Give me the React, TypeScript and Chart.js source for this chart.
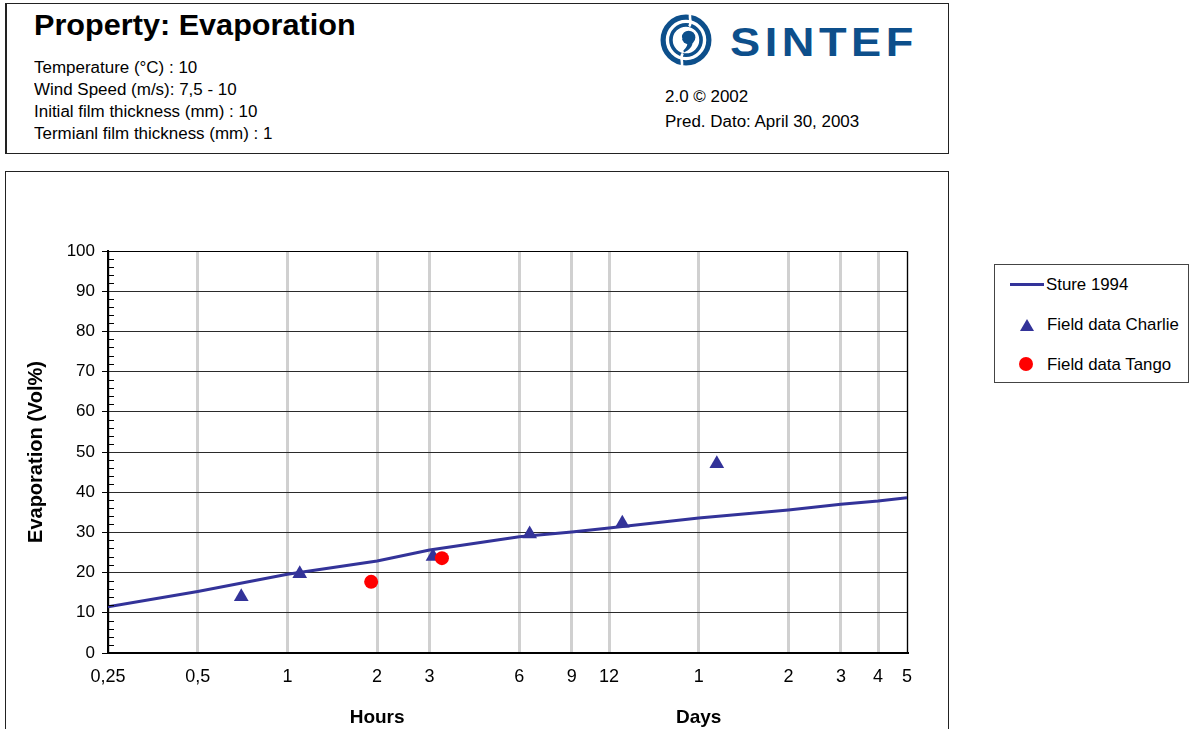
import React, { useEffect, useRef } from "react";
import { Chart, registerables } from "chart.js";

Chart.register(...registerables);

// ---------- data ----------
const seriesNames = ["Sture 1994", "Field data Charlie", "Field data Tango"];
const stureHours = [0.25, 0.5, 1, 2, 3, 6, 9, 12, 24, 48, 72, 96, 120];
const stureEvap = [11.5, 15.3, 19.6, 22.9, 25.6, 28.9, 30.1, 31.1, 33.6, 35.6, 37.0, 37.8, 38.6];
const charlieHours = [0.7, 1.1, 3.08, 6.5, 13.3, 27.6];
const charlieEvap = [14.0, 19.7, 24.0, 29.6, 32.3, 47.1];
const tangoHours = [1.91, 3.3];
const tangoEvap = [17.7, 23.6];
const xTickValues = [0.25, 0.5, 1, 2, 3, 6, 9, 12, 24, 48, 72, 96, 120];
const xTickLabels = ["0,25", "0,5", "1", "2", "3", "6", "9", "12", "1", "2", "3", "4", "5"];
const xGroupTitles = ["Hours", "Days"];
const xGroupCenters = [2, 24];
const yAxisTitle = "Evaporation (Vol%)";
const yMin = 0;
const yMax = 100;
const yStep = 10;
const yMinorStep = 2;

const headerTitle = "Property: Evaporation";
const headerLines = [
  "Temperature (°C) : 10",
  "Wind Speed (m/s): 7,5 - 10",
  "Initial film thickness (mm) : 10",
  "Termianl film thickness (mm) : 1",
];
const headerRight = ["2.0 © 2002", "Pred. Dato: April 30, 2003"];

const FONT = "'Liberation Sans', Arial, Helvetica, sans-serif";
const NAVY = "#333399";
const LOGO_BLUE = "#0d4f8b";

const toPoints = (xs: number[], ys: number[]) => xs.map((x, i) => ({ x, y: ys[i] }));

const decorPlugin = {
  id: "decor",
  afterDraw(chart: any) {
    const { ctx, chartArea: a, scales } = chart;
    const xs = scales.x;
    const ys = scales.y;
    ctx.save();
    // top and right frame
    ctx.strokeStyle = "#000";
    ctx.lineWidth = 1;
    ctx.beginPath();
    ctx.moveTo(a.left, Math.round(a.top) + 0.5);
    ctx.lineTo(Math.round(a.right) + 0.5, Math.round(a.top) + 0.5);
    ctx.lineTo(Math.round(a.right) + 0.5, a.bottom);
    ctx.stroke();
    // minor ticks on y axis (inside)
    ctx.beginPath();
    for (let v = yMin; v <= yMax; v += yMinorStep) {
      if (v % yStep === 0) continue;
      const py = Math.round(ys.getPixelForValue(v)) + 0.5;
      ctx.moveTo(a.left, py);
      ctx.lineTo(a.left + 6, py);
    }
    ctx.stroke();
    // x group titles
    ctx.fillStyle = "#000";
    ctx.font = `bold 19px ${FONT}`;
    ctx.textAlign = "center";
    ctx.textBaseline = "alphabetic";
    xGroupTitles.forEach((t, i) => {
      ctx.fillText(t, xs.getPixelForValue(xGroupCenters[i]), a.bottom + 70);
    });
    // y title
    ctx.font = `bold 20px ${FONT}`;
    ctx.translate(35.5, (a.top + a.bottom) / 2);
    ctx.rotate(-Math.PI / 2);
    ctx.fillText(yAxisTitle, 0, 0);
    ctx.restore();
  },
};

function ChartBox() {
  const ref = useRef<HTMLCanvasElement | null>(null);
  useEffect(() => {
    if (!ref.current) return;
    const chart = new Chart(ref.current, {
      type: "scatter",
      data: {
        datasets: [
          {
            label: seriesNames[0],
            data: toPoints(stureHours, stureEvap),
            showLine: true,
            borderColor: NAVY,
            borderWidth: 3,
            pointRadius: 0,
            tension: 0,
            order: 3,
          },
          {
            label: seriesNames[1],
            data: toPoints(charlieHours, charlieEvap),
            showLine: false,
            pointStyle: "triangle",
            pointRadius: 8.5,
            backgroundColor: NAVY,
            borderColor: NAVY,
            borderWidth: 0,
            order: 2,
          },
          {
            label: seriesNames[2],
            data: toPoints(tangoHours, tangoEvap),
            showLine: false,
            pointStyle: "circle",
            pointRadius: 7,
            backgroundColor: "#ff0000",
            borderColor: "#ff0000",
            borderWidth: 0,
            order: 1,
          },
        ],
      },
      options: {
        animation: false,
        responsive: true,
        maintainAspectRatio: false,
        layout: { padding: { left: 0, top: 79, right: 41, bottom: 0 } },
        plugins: { legend: { display: false }, tooltip: { enabled: false } },
        scales: {
          x: {
            type: "logarithmic",
            min: 0.25,
            max: 120,
            z: -2,
            afterBuildTicks: (scale: any) => {
              scale.ticks = xTickValues.map((v) => ({ value: v }));
            },
            afterFit: (scale: any) => {
              scale.height = 76;
            },
            ticks: {
              autoSkip: false,
              maxRotation: 0,
              padding: 13,
              color: "#000",
              font: { family: FONT, size: 18 },
              callback: (value: any) => {
                const i = xTickValues.indexOf(Number(value));
                return i >= 0 ? xTickLabels[i] : "";
              },
            },
            grid: { color: "#d0d0d0", lineWidth: 3, drawTicks: false },
            border: { display: true, color: "#000", width: 2 },
          },
          y: {
            type: "linear",
            min: yMin,
            max: yMax,
            z: -1,
            afterFit: (scale: any) => {
              scale.width = 102;
            },
            ticks: {
              stepSize: yStep,
              padding: 7,
              color: "#000",
              font: { family: FONT, size: 17 },
            },
            grid: { color: "#2a2a2a", lineWidth: 1, tickLength: 6, tickColor: "#000" },
            border: { display: true, color: "#000", width: 2 },
          },
        },
      },
      plugins: [decorPlugin],
    });
    return () => chart.destroy();
  }, []);
  return (
    <div style={{ position: "absolute", left: 6, top: 172, width: 942, height: 557 }}>
      <canvas ref={ref} />
    </div>
  );
}

const txt = (left: number, baseline: number, size: number, sx: number, extra: any = {}) => ({
  position: "absolute" as const,
  left,
  top: baseline - 0.8465 * size,
  fontSize: size,
  lineHeight: 1,
  fontFamily: FONT,
  whiteSpace: "nowrap" as const,
  color: "#000",
  transformOrigin: "left top",
  transform: `scaleX(${sx})`,
  ...extra,
});

function Logo() {
  return (
    <svg
      width={52}
      height={52}
      viewBox="0 0 100 100"
      style={{ position: "absolute", left: 660, top: 14 }}
    >
      <circle cx={50} cy={50} r={44} fill="none" stroke={LOGO_BLUE} strokeWidth={10} />
      <circle cx={50} cy={50} r={29} fill="none" stroke={LOGO_BLUE} strokeWidth={7} />
      <circle cx={55} cy={45} r={13} fill={LOGO_BLUE} />
      <path d="M 63 50 C 64 62, 56 70, 46 74 L 45 70 C 52 64, 54 58, 52 52 Z" fill={LOGO_BLUE} />
      <path d="M 58 0 C 56 10, 62 18, 56 24" fill="none" stroke="#fff" strokeWidth={5} />
      <path d="M 42 100 C 44 90, 38 82, 44 76" fill="none" stroke="#fff" strokeWidth={5} />
      <path d="M 44 34 C 38 38, 38 44, 42 48" fill="none" stroke="#fff" strokeWidth={4} />
    </svg>
  );
}

function Legend() {
  return (
    <>
      <div
        style={{
          position: "absolute",
          left: 994,
          top: 264,
          width: 195,
          height: 119,
          border: "1px solid #444",
          boxSizing: "border-box",
        }}
      />
      <div style={{ position: "absolute", left: 1010, top: 283, width: 34, height: 3, background: NAVY }} />
      <div style={txt(1046, 290, 17, 0.99)}>{seriesNames[0]}</div>
      <svg width={14} height={12} style={{ position: "absolute", left: 1020, top: 319 }}>
        <polygon points="7,0 14,12 0,12" fill={NAVY} />
      </svg>
      <div style={txt(1047, 330, 17, 0.99)}>{seriesNames[1]}</div>
      <div
        style={{
          position: "absolute",
          left: 1019,
          top: 357,
          width: 14,
          height: 14,
          borderRadius: 7,
          background: "#ff0000",
        }}
      />
      <div style={txt(1047, 370, 17, 0.99)}>{seriesNames[2]}</div>
    </>
  );
}

export default function App() {
  return (
    <div
      style={{
        position: "fixed",
        left: 0,
        top: 0,
        width: 1192,
        height: 729,
        overflow: "hidden",
        background: "#fff",
        fontFamily: FONT,
      }}
    >
      {/* header box */}
      <div
        style={{
          position: "absolute",
          left: 5,
          top: 3,
          width: 944,
          height: 151,
          border: "1px solid #222",
          borderLeftWidth: 2,
          boxSizing: "border-box",
        }}
      />
      <div style={txt(34, 36, 29, 1.056, { fontWeight: "bold" })}>{headerTitle}</div>
      {headerLines.map((l, i) => (
        <div key={i} style={txt(34, 74 + i * 22, 16, 1.06)}>
          {l}
        </div>
      ))}
      <Logo />
      <div
        style={txt(730, 56, 40, 1.13, {
          fontWeight: "bold",
          color: LOGO_BLUE,
          letterSpacing: 4,
        })}
      >
        SINTEF
      </div>
      {headerRight.map((l, i) => (
        <div key={i} style={txt(665, 103 + i * 25, 16, 1.06)}>
          {l}
        </div>
      ))}
      {/* chart box */}
      <div
        style={{
          position: "absolute",
          left: 5,
          top: 171,
          width: 944,
          height: 620,
          border: "1px solid #222",
          boxSizing: "border-box",
        }}
      />
      <ChartBox />
      <Legend />
    </div>
  );
}
